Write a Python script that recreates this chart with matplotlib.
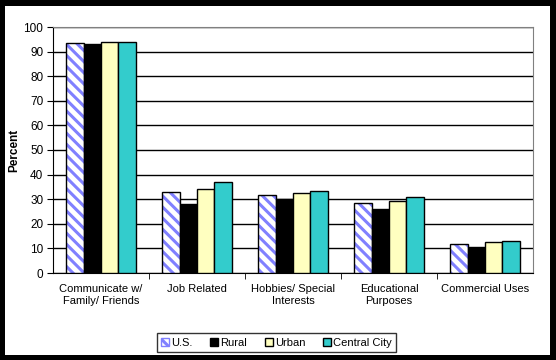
import matplotlib.pyplot as plt
import numpy as np
from matplotlib.patches import Rectangle

plt.rcParams['font.family'] = ['Liberation Sans', 'DejaVu Sans']
plt.rcParams['hatch.linewidth'] = 2.2

categories = ["Communicate w/\nFamily/ Friends", "Job Related", "Hobbies/ Special\nInterests",
              "Educational\nPurposes", "Commercial Uses"]
series_names = ["U.S.", "Rural", "Urban", "Central City"]
us = [93.5, 33.0, 31.8, 28.6, 11.8]
rural = [93.0, 27.9, 30.2, 26.2, 10.7]
urban = [94.0, 34.3, 32.4, 29.4, 12.4]
central = [94.0, 37.1, 33.5, 31.0, 13.2]

fig = plt.figure(figsize=(5.56, 3.60), dpi=100, facecolor='black')
# white page inside the black frame
fig.add_artist(Rectangle((5 / 556, 5 / 360), 545 / 556, 349 / 360, transform=fig.transFigure,
                         facecolor='white', edgecolor='none', zorder=-10))
ax = fig.add_axes([53 / 556, 1 - 273 / 360, 480 / 556, 246 / 360])

x = np.arange(len(categories))
w = 0.18
offs = np.array([-1.5, -0.5, 0.5, 1.5]) * w

# U.S. bars: white with blue diagonal stripes
ax.bar(x + offs[0], us, w, color='white', edgecolor='#8080ff', hatch='\\\\\\', linewidth=0, zorder=3)
ax.bar(x + offs[0], us, w, fill=False, edgecolor='black', linewidth=1, zorder=4)
ax.bar(x + offs[1], rural, w, color='black', edgecolor='black', linewidth=1, zorder=3)
ax.bar(x + offs[2], urban, w, color='#ffffc0', edgecolor='black', linewidth=1, zorder=3)
ax.bar(x + offs[3], central, w, color='#33cccc', edgecolor='black', linewidth=1, zorder=3)

ax.set_xlim(-0.5, len(categories) - 0.5)
ax.set_ylim(0, 100)
ax.set_yticks(np.arange(0, 101, 10))
ax.yaxis.grid(True, color='black', linewidth=1)
ax.set_axisbelow(True)

ax.set_xticks(x)
ax.set_xticklabels(categories, fontsize=8)
ax.tick_params(axis='x', which='major', length=0, pad=8)
ax.set_xticks(np.arange(0.5, len(categories) - 1, 1), minor=True)
ax.tick_params(axis='x', which='minor', length=4, direction='out', color='black')
ax.tick_params(axis='y', length=4, direction='out', labelsize=8.5, pad=3)

ax.set_ylabel("Percent", fontsize=8.5, fontweight='bold')
ax.yaxis.set_label_coords(-33 / 480, 0.5)

for s in ['top', 'right']:
    ax.spines[s].set_color('#808080')
for s in ['left', 'bottom']:
    ax.spines[s].set_color('black')

handles = [Rectangle((0, 0), 1, 1, facecolor='white', edgecolor='#8080ff', hatch='\\\\\\'),
           Rectangle((0, 0), 1, 1, facecolor='black', edgecolor='black'),
           Rectangle((0, 0), 1, 1, facecolor='#ffffc0', edgecolor='black'),
           Rectangle((0, 0), 1, 1, facecolor='#33cccc', edgecolor='black')]
leg = fig.legend(handles, series_names, loc='center', bbox_to_anchor=(276.5 / 556, 1 - 342.5 / 360),
                 ncol=4, fontsize=8, frameon=True, fancybox=False, handlelength=0.7, handleheight=0.7,
                 handletextpad=0.2, columnspacing=1.6, borderpad=0.4)
leg.get_frame().set_edgecolor('black')
leg.get_frame().set_linewidth(1)

fig.savefig('out.png', dpi=100, facecolor='black')
